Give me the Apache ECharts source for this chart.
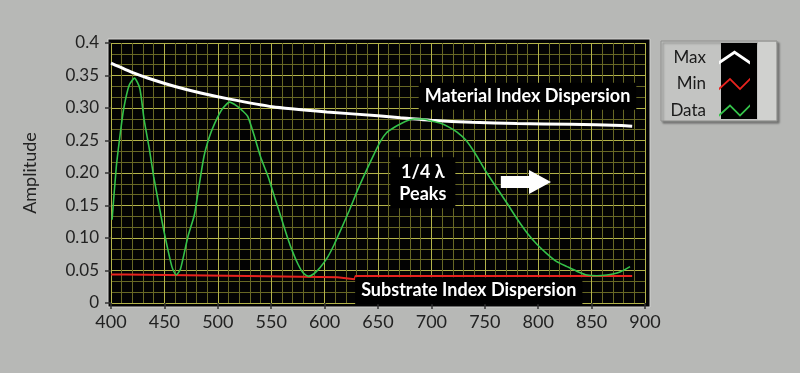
<!DOCTYPE html>
<html>
<head>
<meta charset="utf-8">
<script src="https://cdn.jsdelivr.net/npm/echarts@6/dist/echarts.min.js"></script>
<style>
html,body{margin:0;padding:0;background:#b7b8b6;}
#c{width:800px;height:373px;}
</style>
</head>
<body>
<div id="c"></div>
<script>
// ---- data ----
const xTickLabels = ['400','450','500','550','600','650','700','750','800','850','900'];
const yTickLabels = ['0','0.05','0.10','0.15','0.20','0.25','0.30','0.35','0.4'];

const maxWavelength = [400,421,440,460,484,510,551,602,650,671,700,738,780,830,878,888];
const maxAmplitude  = [0.369,0.354,0.343,0.333,0.323,0.314,0.302,0.294,0.288,0.285,0.281,0.278,0.276,0.275,0.273,0.272];

const minWavelength = [400,414,414.5,528,528.5,612,613,628,629,888];
const minAmplitude  = [0.044,0.044,0.0415,0.0415,0.0395,0.0395,0.0365,0.0365,0.0415,0.0415];

const dataWavelength = [401,405,409,412,417,422,427,431,436,440,445,450,457,461,465,472,478,481,487,492,497,504,511,518,523,528,534,540,547,553,559,565,570,575,580,585,590,596,603,609,615,623,631,640,646,652,658,665,675,684,692,700,708,716,724,732,741,750,760,771,780,790,799,808,817,827,836,846,855,864,871,877,886];
const dataAmplitude  = [0.128,0.21,0.265,0.30,0.335,0.346,0.33,0.282,0.236,0.194,0.150,0.107,0.056,0.043,0.052,0.102,0.135,0.165,0.225,0.255,0.276,0.298,0.309,0.303,0.296,0.287,0.258,0.225,0.195,0.164,0.133,0.102,0.079,0.060,0.046,0.041,0.045,0.055,0.071,0.090,0.112,0.142,0.174,0.207,0.228,0.248,0.262,0.270,0.279,0.283,0.283,0.280,0.277,0.271,0.263,0.251,0.230,0.205,0.180,0.153,0.130,0.107,0.090,0.076,0.064,0.056,0.049,0.043,0.042,0.043,0.045,0.048,0.056];

const seriesNames = ['Max','Min','Data'];
const annotations = {
  material: {text:'Material Index Dispersion', at:[790, 0.318]},
  substrate:{text:'Substrate Index Dispersion', at:[735, 0.019]},
  peaks:    {text:'1/4 λ\nPeaks', at:[692, 0.185]},
  arrowFrom:[765, 0.186], arrowTo:[812, 0.186]
};

// ---- build ----
const zip = (xs, ys) => xs.map((x,i)=>[x, ys[i]]);
const FONT = 'Lato';

const chart = echarts.init(document.getElementById('c'), null, {renderer:'canvas'});

const option = {
  backgroundColor:'#b7b8b6',
  animation:false,
  grid:{left:111, right:155, top:43, bottom:70, show:true, backgroundColor:'#030303', borderWidth:0},
  xAxis:{
    type:'value', min:400, max:900, interval:50,
    axisLine:{show:false},
    axisTick:{show:true, length:6, lineStyle:{color:'#333', width:1.5}},
    axisLabel:{color:'#222', fontFamily:FONT, fontSize:18, margin:10,
      formatter:(v)=>xTickLabels[Math.round((v-400)/50)] || ''},
    splitLine:{show:true, lineStyle:{color:'#b3b34a', width:1}},
    minorTick:{show:false, splitNumber:5},
    minorSplitLine:{show:true, lineStyle:{color:'#676724', width:1}}
  },
  yAxis:{
    type:'value', min:0, max:0.4, interval:0.05,
    name:'Amplitude', nameLocation:'middle', nameGap:72, nameRotate:90,
    nameTextStyle:{color:'#222', fontFamily:FONT, fontSize:18},
    axisLine:{show:false},
    axisTick:{show:true, length:6, lineStyle:{color:'#333', width:1.5}},
    axisLabel:{color:'#222', fontFamily:FONT, fontSize:17, margin:12,
      formatter:(v)=>yTickLabels[Math.round(v/0.05)] || ''},
    splitLine:{show:true, lineStyle:{color:'#b3b34a', width:1}},
    minorTick:{show:false, splitNumber:3},
    minorSplitLine:{show:true, lineStyle:{color:'#676724', width:1}}
  },
  legend:{
    orient:'vertical', align:'right', right:45, top:44,
    itemWidth:31, itemHeight:14, itemGap:9.5,
    textStyle:{color:'#1a1a1a', fontFamily:FONT, fontSize:17, padding:[0,8,0,0]},
    data:[
      {name:'Max', icon:'path://M0,11 L16,0 L32,11 L32,14.5 L16,3.5 L0,14.5 Z'},
      {name:'Min', icon:'path://M0,11 L11,1 L21,11 L31,1 L31,3.5 L21,13.5 L11,3.5 L0,13.5 Z'},
      {name:'Data', icon:'path://M0,11 L11,1 L21,11 L31,1 L31,3.5 L21,13.5 L11,3.5 L0,13.5 Z'}
    ],
    z:20
  },
  series:[
    {name:seriesNames[0], type:'line', data:zip(maxWavelength, maxAmplitude), showSymbol:false,
      smooth:0.2, lineStyle:{color:'#ffffff', width:3}, itemStyle:{color:'#ffffff'}, z:5},
    {name:seriesNames[1], type:'line', data:zip(minWavelength, minAmplitude), showSymbol:false,
      lineStyle:{color:'#e8231e', width:2}, itemStyle:{color:'#e8231e'}, z:4},
    {name:seriesNames[2], type:'line', data:zip(dataWavelength, dataAmplitude), showSymbol:false,
      smooth:0.2, lineStyle:{color:'#35c24a', width:1.6}, itemStyle:{color:'#35c24a'}, z:6}
  ]
};
chart.setOption(option);

// decorations and annotations positioned through the chart's own scales
const px = (p)=>chart.convertToPixel({gridIndex:0}, p);
const g0 = px([400,0.4]), g1 = px([900,0]);
const m = px(annotations.material.at), s = px(annotations.substrate.at), pk = px(annotations.peaks.at);
const a0 = px(annotations.arrowFrom), a1 = px(annotations.arrowTo);
const ay = a0[1];
const labelStyle = (txt)=>({text:txt, fill:'#fff', font:'bold 18px '+FONT, align:'center', verticalAlign:'middle',
  backgroundColor:'#000', padding:[3,6,2,6], lineHeight:22});

chart.setOption({
  graphic:{elements:[
    // black plot frame extension
    {type:'rect', z:-5, silent:true, shape:{x:g0[0]-3, y:g0[1]-4, width:g1[0]-g0[0]+8, height:g1[1]-g0[1]+8},
      style:{fill:'#030303', stroke:'#d4d4d2', lineWidth:1}},
    // legend panel
    {type:'rect', z:1, silent:true, shape:{x:661, y:41, width:116, height:80},
      style:{fill:'#c3c4c2', stroke:'#8e8f8d', lineWidth:1, shadowColor:'rgba(0,0,0,0.35)', shadowOffsetX:2, shadowOffsetY:2, shadowBlur:2}},
    {type:'rect', z:1, silent:true, shape:{x:758, y:42, width:18, height:78}, style:{fill:'#d0d1cf'}},
    {type:'rect', z:2, silent:true, shape:{x:721, y:43, width:36, height:76}, style:{fill:'#000'}},
    // annotations
    {type:'text', z:50, silent:true, x:m[0], y:m[1], style:labelStyle(annotations.material.text)},
    {type:'text', z:50, silent:true, x:s[0], y:s[1], style:labelStyle(annotations.substrate.text)},
    {type:'text', z:50, silent:true, x:pk[0], y:pk[1], style:Object.assign(labelStyle(annotations.peaks.text), {font:'bold 18px '+FONT, padding:[4,9,3,9]})},
    {type:'polygon', z:50, silent:true, shape:{points:[
        [a0[0], ay-6],[a1[0]-22, ay-6],[a1[0]-22, ay-12],[a1[0], ay],[a1[0]-22, ay+12],[a1[0]-22, ay+6],[a0[0], ay+6]]},
      style:{fill:'#ffffff'}}
  ]}
});
</script>
</body>
</html>
